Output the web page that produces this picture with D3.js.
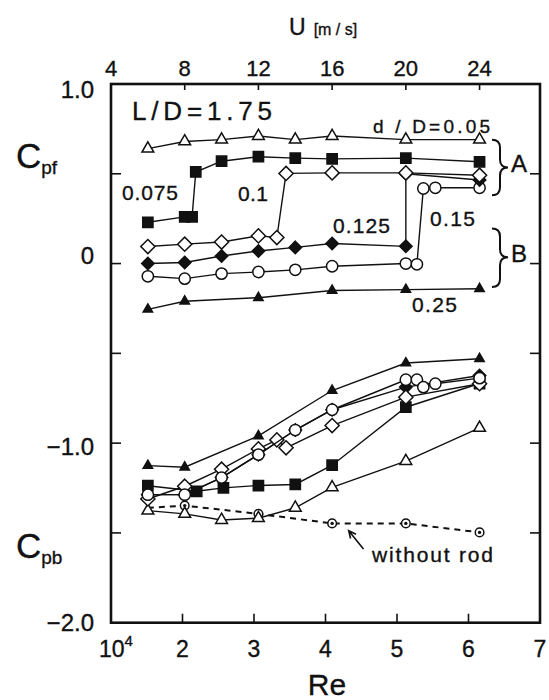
<!DOCTYPE html>
<html><head><meta charset="utf-8">
<script src="https://cdn.jsdelivr.net/npm/d3@7"></script>
<style>
html,body{margin:0;padding:0;background:#fff;}
svg{display:block;}
text{font-family:"Liberation Sans",Arial,Helvetica,sans-serif;fill:#111;stroke:#111;stroke-width:0.35px;}
</style></head><body>
<svg id="chart" width="549" height="700"></svg>
<script>
// ---- axis ticks ----
const uTicks = [4, 8, 12, 16, 20, 24];          // free-stream velocity U [m/s]
const reTicks = [2, 3, 4, 5, 6, 7];             // Re (x 10^4)
const cpTicks = [1.0, 0.5, 0, -0.5, -1.0, -1.5, -2.0];
const cpLabelTicks = [1.0, 0, -1.0, -2.0];
const cpLabelText = ["1.0", "0", "\u22121.0", "\u22122.0"];

// ---- front-face pressure coefficient Cpf, by rod diameter d/D ----
const cpf005U  = [6, 8, 10, 12, 14, 16, 20, 24];
const cpf005   = [0.64, 0.68, 0.69, 0.71, 0.69, 0.71, 0.69, 0.69];
const cpf0075U = [6, 8, 8.4, 8.6, 10, 12, 14, 16, 20, 24];
const cpf0075  = [0.23, 0.26, 0.26, 0.51, 0.57, 0.595, 0.587, 0.583, 0.587, 0.567];
const cpf01U   = [6, 8, 10, 12, 13, 13.5, 16, 20, 24];
const cpf01    = [0.095, 0.108, 0.12, 0.154, 0.145, 0.502, 0.505, 0.505, 0.492];
const cpf0125U = [6, 8, 10, 12, 14, 16, 20, 20, 24];
const cpf0125  = [0.0, 0.006, 0.042, 0.07, 0.09, 0.112, 0.096, 0.5, 0.465];
const cpf015U  = [6, 8, 10, 12, 14, 16, 20, 20.6, 20.95, 21.6, 24];
const cpf015   = [-0.071, -0.084, -0.056, -0.047, -0.035, -0.015, 0.0, -0.004, 0.418, 0.422, 0.422];
const cpf025U  = [6, 8, 12, 16, 20, 24];
const cpf025   = [-0.255, -0.21, -0.19, -0.15, -0.145, -0.14];

// ---- base pressure coefficient Cpb ----
const cpb005U  = [6, 8, 10, 12, 14, 16, 20, 24];
const cpb005   = [-1.376, -1.394, -1.428, -1.418, -1.36, -1.246, -1.10, -0.915];
const cpb0075U = [6, 8.65, 10.1, 12, 14, 16, 20, 24];
const cpb0075  = [-1.237, -1.268, -1.249, -1.236, -1.23, -1.123, -0.80, -0.668];
const cpb01U   = [6, 8, 10, 12, 13, 13.5, 16, 20, 24];
const cpb01    = [-1.311, -1.24, -1.145, -1.032, -0.982, -1.026, -0.902, -0.744, -0.669];
const cpb0125U = [6, 8, 10, 12, 14, 16, 20, 24];
const cpb0125  = [-1.287, -1.287, -1.192, -1.064, -0.927, -0.814, -0.688, -0.623];
const cpb015U  = [6, 8, 10, 12, 14, 16, 20, 20.6, 20.95, 21.6, 24];
const cpb015   = [-1.287, -1.287, -1.192, -1.064, -0.927, -0.814, -0.647, -0.647, -0.688, -0.669, -0.638];
const cpb025U  = [6, 8, 12, 16, 20, 24];
const cpb025   = [-1.125, -1.134, -0.96, -0.707, -0.554, -0.53];
const noRodU   = [6, 8, 12, 16, 20, 24];
const noRod    = [-1.36, -1.348, -1.394, -1.447, -1.447, -1.497];

// ---- scales ----
const X0 = 111, X1 = 540, Y0 = 84, Y1 = 622.7;
const xRe = d3.scaleLinear().domain([1, 7]).range([X0, X1]);
const xU  = d3.scaleLinear().domain([4, 27.28]).range([X0, X1]);
const y   = d3.scaleLinear().domain([-2, 1]).range([Y1, Y0]);

const svg = d3.select("#chart");
const ink = "#111";

// custom square-on-point diamond
const diamond = { draw(ctx, size) { const r = Math.sqrt(size) / 2;
  ctx.moveTo(0, -r); ctx.lineTo(r, 0); ctx.lineTo(0, r); ctx.lineTo(-r, 0); ctx.closePath(); } };
const shapes = {
  tri: d3.symbolTriangle, sq: d3.symbolSquare, dia: diamond, circ: d3.symbolCircle
};

// drawing table built from the arrays above (drawn in this order)
const cpfSeries = [
  {u: cpf025U,  v: cpf025,  shape: "tri",  size: 38,  fill: ink},
  {u: cpf015U,  v: cpf015,  shape: "circ", size: 100, fill: "#fff"},
  {u: cpf0125U, v: cpf0125, shape: "dia",  size: 155, fill: ink},
  {u: cpf01U,   v: cpf01,   shape: "dia",  size: 200, fill: "#fff"},
  {u: cpf0075U, v: cpf0075, shape: "sq",   size: 105, fill: ink},
  {u: cpf005U,  v: cpf005,  shape: "tri",  size: 60,  fill: "#fff"}
];
const cpbSeries = [
  {u: cpb005U,  v: cpb005,  shape: "tri",  size: 60,  fill: "#fff"},
  {u: cpb0075U, v: cpb0075, shape: "sq",   size: 105, fill: ink},
  {u: cpb0125U, v: cpb0125, shape: "dia",  size: 155, fill: ink},
  {u: cpb01U,   v: cpb01,   shape: "dia",  size: 200, fill: "#fff"},
  {u: cpb015U,  v: cpb015,  shape: "circ", size: 100, fill: "#fff"},
  {u: cpb025U,  v: cpb025,  shape: "tri",  size: 38,  fill: ink}
];

const plot = svg.append("g");
const line = d3.line().x(d => xU(d[0])).y(d => y(d[1]));

// no-rod reference: dashed line with ring-and-dot markers
const nr = noRodU.map((u, i) => [u, noRod[i]]);
plot.append("path").attr("d", line(nr)).attr("fill", "none")
  .attr("stroke", ink).attr("stroke-width", 2).attr("stroke-dasharray", "6,5");
const nrg = plot.append("g").selectAll("g").data(nr.slice(1)).join("g")
  .attr("transform", d => `translate(${xU(d[0])},${y(d[1])})`);
nrg.append("circle").attr("r", 4.3).attr("fill", "#fff").attr("stroke", ink).attr("stroke-width", 1.5);
nrg.append("circle").attr("r", 1.7).attr("fill", ink);

function drawSeries(s) {
  const pts = s.u.map((u, i) => [u, s.v[i]]);
  const g = plot.append("g");
  g.append("path").attr("d", line(pts)).attr("fill", "none")
    .attr("stroke", ink).attr("stroke-width", 1.4);
  g.selectAll("path.m").data(pts).join("path").attr("class", "m")
    .attr("transform", d => `translate(${xU(d[0])},${y(d[1])})`)
    .attr("d", d3.symbol().type(shapes[s.shape]).size(s.size))
    .attr("fill", s.fill).attr("stroke", ink).attr("stroke-width", 1.5);
}
cpbSeries.forEach(drawSeries);
cpfSeries.forEach(drawSeries);

// ---- frame and ticks ----
const axes = svg.append("g").attr("stroke", ink);
axes.append("rect").attr("x", X0).attr("y", Y0).attr("width", X1 - X0).attr("height", Y1 - Y0)
  .attr("fill", "none").attr("stroke-width", 2.6);
axes.selectAll("line.tu").data(uTicks.slice(1)).join("line").attr("class", "tu")
  .attr("x1", d => xU(d)).attr("x2", d => xU(d)).attr("y1", Y0).attr("y2", Y0 + 6).attr("stroke-width", 1.6);
axes.selectAll("line.tr").data(reTicks.slice(0, -1)).join("line").attr("class", "tr")
  .attr("x1", d => xRe(d)).attr("x2", d => xRe(d)).attr("y1", Y1).attr("y2", Y1 - 9).attr("stroke-width", 1.6);
axes.selectAll("line.tl").data(cpTicks.slice(1, -1)).join("line").attr("class", "tl")
  .attr("x1", X0).attr("x2", X0 + 10).attr("y1", d => y(d)).attr("y2", d => y(d)).attr("stroke-width", 1.6);
axes.selectAll("line.trr").data(cpTicks.slice(1, -1)).join("line").attr("class", "trr")
  .attr("x1", X1).attr("x2", X1 - 10).attr("y1", d => y(d)).attr("y2", d => y(d)).attr("stroke-width", 1.6);

// ---- tick labels ----
const T = svg.append("g");
T.selectAll("text.u").data(uTicks).join("text").attr("class", "u")
  .attr("x", d => xU(d)).attr("y", Y0 - 8).attr("text-anchor", "middle")
  .attr("font-size", 22).text(d => d);
T.selectAll("text.re").data(reTicks).join("text").attr("class", "re")
  .attr("x", d => xRe(d)).attr("y", 657).attr("text-anchor", "middle")
  .attr("font-size", 23).text(d => d);
const t10 = T.append("text").attr("x", xRe(1) - 12).attr("y", 657).attr("font-size", 23);
t10.append("tspan").text("10");
t10.append("tspan").attr("font-size", 15).attr("dy", -11).text("4");
const cpDy = [14, 0, 12, 8];
T.selectAll("text.cp").data(cpLabelTicks).join("text").attr("class", "cp")
  .attr("x", 94).attr("y", (d, i) => y(d) + cpDy[i]).attr("text-anchor", "end")
  .attr("font-size", 24).text((d, i) => cpLabelText[i]);

// ---- axis titles ----
const ut = T.append("text").attr("x", 289).attr("y", 35);
ut.append("tspan").attr("font-size", 23).text("U");
ut.append("tspan").attr("font-size", 16).attr("dx", 8).text("[m / s]");
T.append("text").attr("x", 327).attr("y", 695).attr("text-anchor", "middle").attr("font-size", 30).text("Re");
function cpTitle(sub, yb) {
  const t = T.append("text").attr("x", 16).attr("y", yb);
  t.append("tspan").attr("font-size", 35).text("C");
  t.append("tspan").attr("font-size", 19).attr("dy", 6).text(sub);
}
cpTitle("pf", 168);
cpTitle("pb", 558);

// ---- annotations ----
function label(str, x, yb, size, len) {
  const t = T.append("text").attr("x", x).attr("y", yb).attr("font-size", size).text(str);
  if (len) t.attr("textLength", len).attr("lengthAdjust", "spacing");
}
label("L/D=1.75", 132, 120, 26, 140);
label("d / D=0.05", 373, 133, 19, 117);
label("0.075", 122, 200, 21, 56);
label("0.1", 238, 201, 21, 30);
label("0.125", 333, 233, 21, 57);
label("0.15", 430, 226, 21, 45);
label("0.25", 412, 312, 21, 45);
label("A", 511, 172, 24);
label("B", 511, 262, 24);
label("without rod", 372, 562, 21, 121);

// curly brackets grouping flow states A and B
function brace(top, mid, bot) {
  const xa = 492, xb = 500, xc = 508;
  return `M${xa},${top} Q${xb},${top} ${xb},${top + 8} L${xb},${mid - 8} Q${xb},${mid} ${xc},${mid}` +
         ` Q${xb},${mid} ${xb},${mid + 8} L${xb},${bot - 8} Q${xb},${bot} ${xa},${bot}`;
}
svg.append("path").attr("d", brace(y(0.69), y(0.535), y(0.38))).attr("fill", "none").attr("stroke", ink).attr("stroke-width", 2);
svg.append("path").attr("d", brace(y(0.195), y(0.035), y(-0.13))).attr("fill", "none").attr("stroke", ink).attr("stroke-width", 2);

// arrow pointing at the no-rod curve
const tail = [xU(17.7), y(-1.59)], tip = [xU(16.9), y(-1.488)];
const ang = Math.atan2(tip[1] - tail[1], tip[0] - tail[0]);
const hl = 8, ha = 0.45;
svg.append("path").attr("fill", "none").attr("stroke", ink).attr("stroke-width", 1.6)
  .attr("d", `M${tail[0]},${tail[1]} L${tip[0]},${tip[1]}` +
    ` M${tip[0] - hl * Math.cos(ang - ha)},${tip[1] - hl * Math.sin(ang - ha)} L${tip[0]},${tip[1]}` +
    ` L${tip[0] - hl * Math.cos(ang + ha)},${tip[1] - hl * Math.sin(ang + ha)}`);
</script>
</body></html>
